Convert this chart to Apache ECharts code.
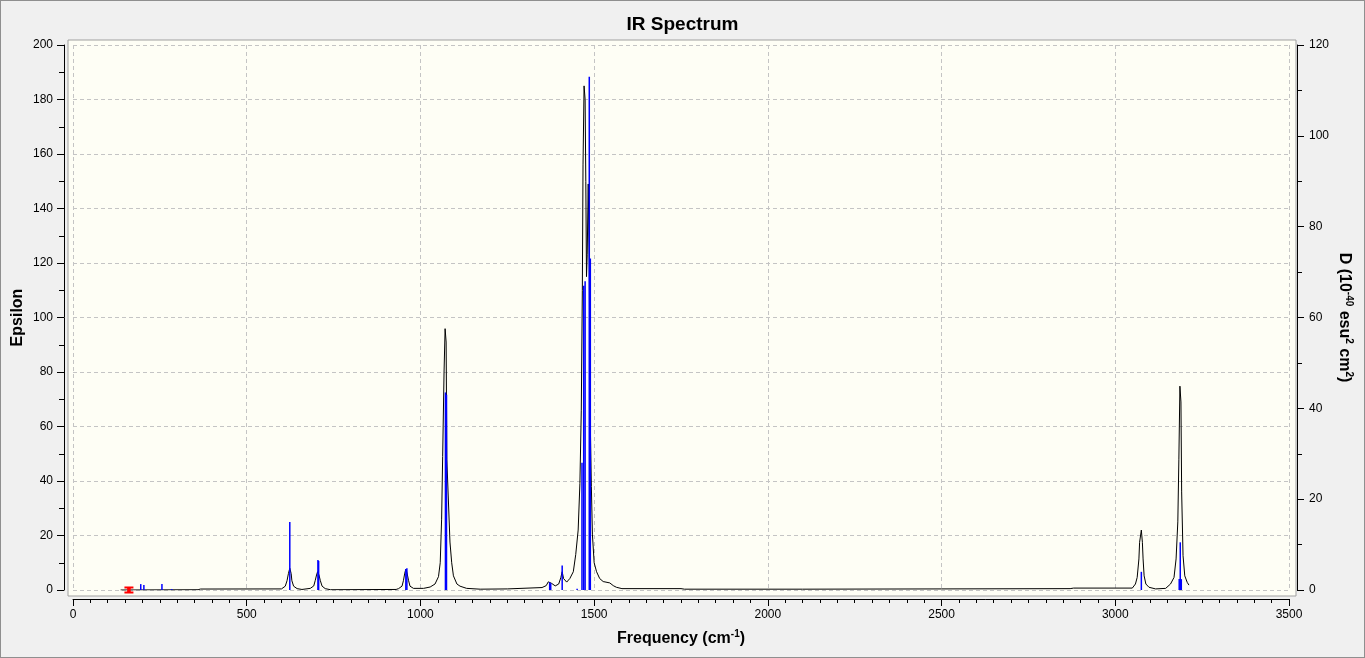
<!DOCTYPE html>
<html>
<head>
<meta charset="utf-8">
<script src="https://cdn.jsdelivr.net/npm/echarts@6/dist/echarts.min.js"></script>
<style>
html,body{margin:0;padding:0;background:#f0f0f0;}
#c{width:1365px;height:658px;box-sizing:border-box;border:1px solid #8f8f8f;background:#f0f0f0;}
</style>
</head>
<body>
<div id="c"></div>
<script>
// ---- data ----
// black spectrum curve: frequency (cm-1) and epsilon
const curveFreq = [137,360,367,600,611,616,620,624,628,630,635,645,659,683,693,697,701,704,708,712,717,726,741,930,937,947,951,955,958,961,966,970,980,1009,1028,1042,1052,1057,1061,1064,1068,1071,1074,1076,1080,1085,1090,1095,1105,1114,1133,1172,1250,1255,1350,1362,1368,1373,1378,1388,1398,1404,1408,1412,1421,1430,1440,1447,1454,1459,1463,1466,1468,1471,1474,1476,1478,1480,1483,1486,1488,1492,1495,1500,1507,1516,1526,1545,1555,1564,1580,1750,1760,2100,2500,2870,2880,3049,3058,3063,3068,3070,3075,3078,3080,3083,3088,3097,3116,3145,3159,3169,3175,3180,3183,3186,3189,3191,3195,3200,3207,3212];
const curveEps  = [0,0.1,0.35,0.4,1.4,3.4,6,8,6,3.4,1.4,0.5,0.2,0.6,1.5,3.4,5.5,6.7,5.5,3.4,1.4,0.5,0.1,0.2,0.5,1.4,3.4,6.2,7.7,6.5,3.4,1.4,0.6,0.6,1.1,2.2,4.9,10,26,49,80,95.9,91,48,34.5,17.6,10,5.2,2.2,1.4,0.6,0.3,0.4,0.7,0.9,1.6,3,3.7,2.4,1.5,2.2,4.5,6.7,4.2,2.9,4.2,6.7,13,22,39,66,110,156,185,180,150,115,123,149,120,68,38,20.5,10,6.7,4.2,3.1,2.6,1.6,1,0.5,0.5,0.3,0.3,0.4,0.5,0.7,0.7,2.2,4.6,11.4,17.5,22,17.5,11.4,5.2,2.2,1,0.4,0.6,2.2,4.6,11.4,25,48,74.8,69,36,12.6,5.2,2.8,1.8];
// blue sticks: frequency and dipole strength D (10^-40 esu^2 cm^2)
const stickFreq = [195,204,256,284,624,705,707,958,961,1072,1075,1372,1375,1408,1451,1465,1470,1474,1486,1489,3075,3184,3187,3190];
const stickD    = [1.3,1.1,1.3,0.2,15.0,6.6,6.4,4.6,4.8,43.5,43,1.7,1.5,5.4,0.3,28,67,68,113,73,4.0,2.4,10.5,2.4];
// red marker
const markerFreq = [161];
const markerEps = [0];
// axis ranges / ticks
const xTicks = {min:0, max:3500, interval:500};
const yLeftTicks = {min:0, max:200, interval:20};
const yRightTicks = {min:0, max:120, interval:20};

const FONT = 'Liberation Sans, Arial, sans-serif';
const chart = echarts.init(document.getElementById('c'), null, {renderer:'canvas'});

const curveData = curveFreq.map((f,i)=>[f, curveEps[i]]);
const stickData = stickFreq.map((f,i)=>[f, stickD[i]]);
const markerData = markerFreq.map((f,i)=>[f, markerEps[i]]);

const dash = {color:'#c4c4c4', type:[4,3], width:1};
const plain = v => String(v);

chart.setOption({
  animation:false,
  backgroundColor:'#f0f0f0',
  title:{text:'IR Spectrum', left:'center', top:9,
    textStyle:{fontFamily:FONT, fontSize:19, fontWeight:'bold', color:'#000'}},
  grid:[
    {left:67, right:68, top:39, bottom:61, show:true, backgroundColor:'#fefef5', borderColor:'#a0a0a0', borderWidth:1, z:0, outerBoundsMode:'none', containLabel:false},
    {left:72, right:75, top:44, bottom:67, show:false, outerBoundsMode:'none', containLabel:false}
  ],
  xAxis:[
    {gridIndex:0, type:'value', show:false, min:0, max:1},
    {gridIndex:1, type:'value', min:xTicks.min, max:xTicks.max, interval:xTicks.interval,
      offset:9, position:'bottom',
      axisLine:{show:true, onZero:false, lineStyle:{color:'#000', width:1}},
      axisTick:{show:true, length:7, lineStyle:{color:'#000'}},
      minorTick:{show:true, splitNumber:10, length:4, lineStyle:{color:'#000'}},
      axisLabel:{margin:10, color:'#000', fontFamily:FONT, fontSize:12, formatter:plain},
      splitLine:{show:true, lineStyle:dash},
      name:'{b|Frequency (cm}{s|-1}{b|)}', nameLocation:'middle', nameGap:30, nameMoveOverlap:false,
      nameTextStyle:{rich:{
        b:{fontFamily:FONT, fontSize:16, fontWeight:'bold', color:'#000', lineHeight:20},
        s:{fontFamily:FONT, fontSize:10, fontWeight:'bold', color:'#000', verticalAlign:'top', lineHeight:12}
      }}
    }
  ],
  yAxis:[
    {gridIndex:0, type:'value', show:false, min:0, max:1},
    {gridIndex:1, type:'value', min:yLeftTicks.min, max:yLeftTicks.max, interval:yLeftTicks.interval,
      position:'left', offset:9,
      axisLine:{show:true, onZero:false, lineStyle:{color:'#000', width:1}},
      axisTick:{show:true, length:7, lineStyle:{color:'#000'}},
      minorTick:{show:true, splitNumber:2, length:5, lineStyle:{color:'#000'}},
      axisLabel:{margin:11, color:'#000', fontFamily:FONT, fontSize:12, formatter:plain},
      splitLine:{show:true, lineStyle:dash},
      name:'Epsilon', nameLocation:'middle', nameGap:38, nameRotate:90, nameMoveOverlap:false,
      nameTextStyle:{fontFamily:FONT, fontSize:16, fontWeight:'bold', color:'#000'}
    },
    {gridIndex:1, type:'value', min:yRightTicks.min, max:yRightTicks.max, interval:yRightTicks.interval,
      position:'right', offset:8,
      axisLine:{show:true, onZero:false, lineStyle:{color:'#000', width:1}},
      axisTick:{show:true, length:7, lineStyle:{color:'#000'}},
      minorTick:{show:true, splitNumber:2, length:5, lineStyle:{color:'#000'}},
      axisLabel:{margin:12, color:'#000', fontFamily:FONT, fontSize:12, formatter:plain},
      splitLine:{show:false},
      name:'{b|D (10}{s|-40}{b| esu}{s|2}{b| cm}{s|2}{b|)}', nameLocation:'middle', nameGap:37, nameRotate:-90, nameMoveOverlap:false,
      nameTextStyle:{rich:{
        b:{fontFamily:FONT, fontSize:16, fontWeight:'bold', color:'#000', lineHeight:20},
        s:{fontFamily:FONT, fontSize:10, fontWeight:'bold', color:'#000', verticalAlign:'top', lineHeight:12}
      }}
    }
  ],
  series:[
    {type:'line', xAxisIndex:1, yAxisIndex:1, data:curveData, showSymbol:false, symbol:'none',
      lineStyle:{color:'#000', width:1}, z:3, silent:true},
    {type:'custom', xAxisIndex:1, yAxisIndex:2, data:stickData, z:4, silent:true,
      renderItem:function(params, api){
        const p0 = api.coord([api.value(0), 0]);
        const p1 = api.coord([api.value(0), api.value(1)]);
        return {type:'line', shape:{x1:p0[0], y1:p0[1], x2:p1[0], y2:p1[1]},
          style:{stroke:'#0000ff', lineWidth:1.5}};
      }},
    {type:'scatter', xAxisIndex:1, yAxisIndex:1, data:markerData, z:5, silent:true,
      symbol:'path://M0,0H10V2H7V5H10V7H0V5H3V2H0Z', symbolSize:[9,7],
      itemStyle:{color:'#ff0000', opacity:1}}
  ]
});
</script>
</body>
</html>
